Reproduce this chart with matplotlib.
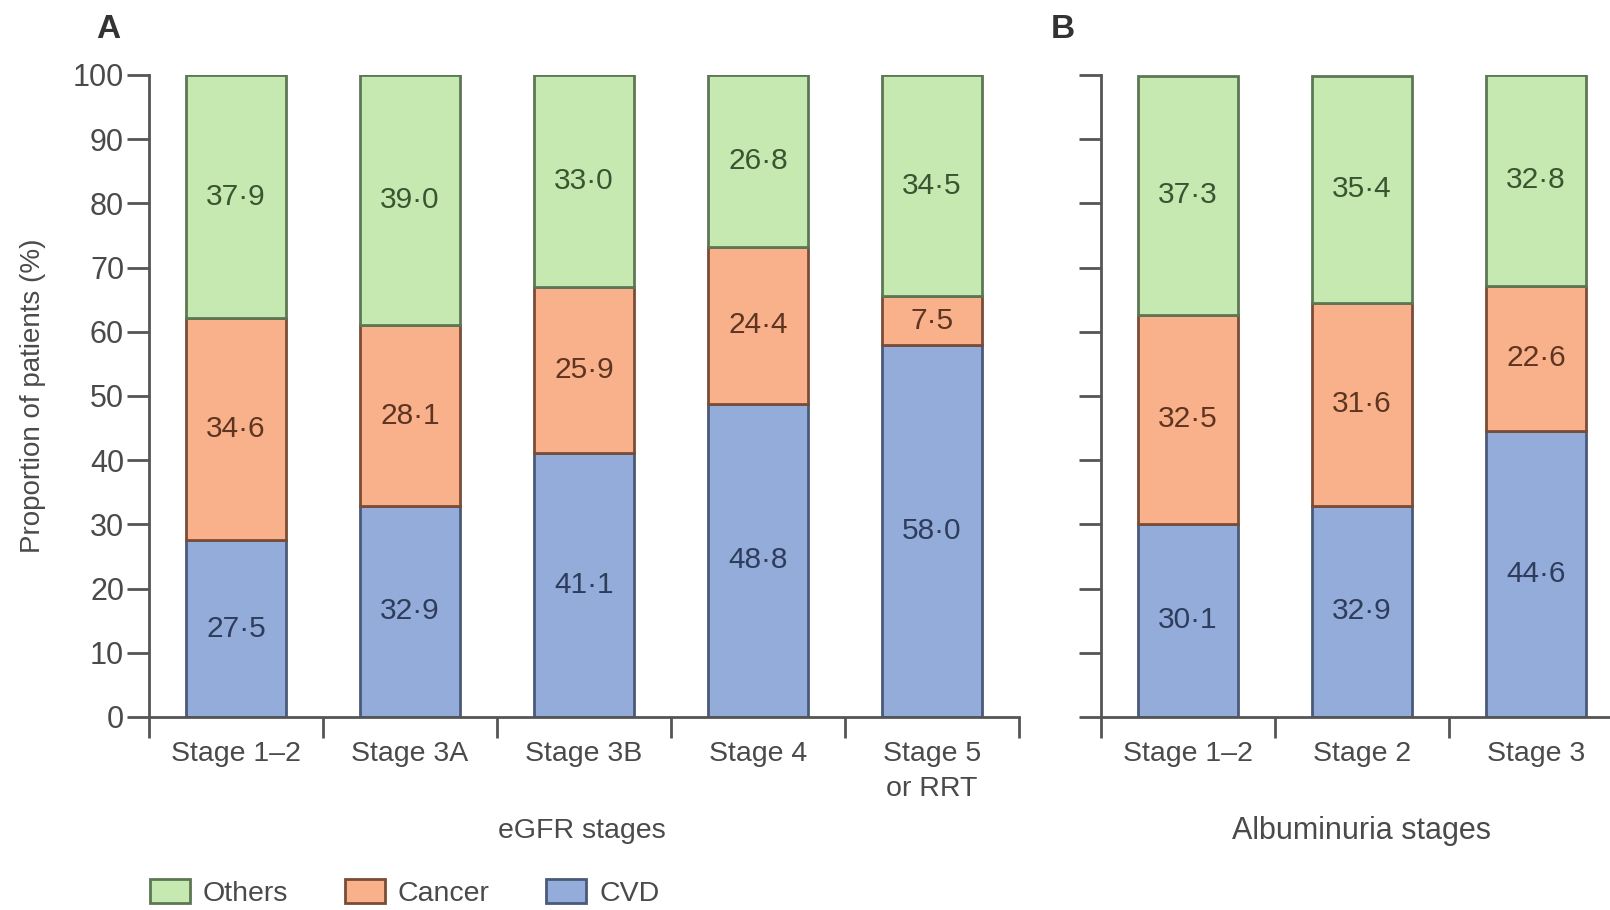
import numpy as np
import matplotlib.pyplot as plt
from matplotlib.patches import Patch

plt.rcParams['font.family'] = ['Liberation Sans', 'DejaVu Sans']

# eGFR stages (panel A)
egfr_stages = ['Stage 1–2', 'Stage 3A', 'Stage 3B', 'Stage 4', 'Stage 5\nor RRT']
egfr_cvd = [27.5, 32.9, 41.1, 48.8, 58.0]
egfr_cancer = [34.6, 28.1, 25.9, 24.4, 7.5]
egfr_others = [37.9, 39.0, 33.0, 26.8, 34.5]

# albuminuria stages (panel B)
alb_stages = ['Stage 1–2', 'Stage 2', 'Stage 3']
alb_cvd = [30.1, 32.9, 44.6]
alb_cancer = [32.5, 31.6, 22.6]
alb_others = [37.3, 35.4, 32.8]

# name, fill, edge, label colour
styles = {
    'CVD': ('#93acd9', '#4b5a78', '#2f3d5c'),
    'Cancer': ('#f9b18c', '#7a4c36', '#5e3520'),
    'Others': ('#c6e9b1', '#5d7755', '#3a5531'),
}
axis_col = '#555555'
text_col = '#4a4a4a'

W, H = 1610, 910
fig = plt.figure(figsize=(W / 100, H / 100), dpi=100)


def fmt(v):
    return f'{v:.1f}'.replace('.', '·')


def draw_panel(ax, stages, cvd, cancer, others, show_ylabels):
    x = np.arange(len(stages))
    bottom = np.zeros(len(stages))
    for name, vals in (('CVD', cvd), ('Cancer', cancer), ('Others', others)):
        fill, edge, tc = styles[name]
        vals = np.array(vals)
        bars = ax.bar(x, vals, 0.57, bottom=bottom, color=fill,
                      edgecolor=edge, linewidth=2)
        ax.bar_label(bars, labels=[fmt(v) for v in vals], label_type='center',
                     color=tc, fontsize=21.5)
        bottom += vals

    ax.set_xlim(-0.5, len(stages) - 0.5)
    ax.set_ylim(0, 100)
    ax.set_yticks(np.arange(0, 101, 10))
    if not show_ylabels:
        ax.set_yticklabels([])
    ax.set_xticks(x)
    ax.set_xticklabels(stages, fontsize=20.5, color=text_col, linespacing=1.45)
    ax.set_xticks(np.arange(len(stages) + 1) - 0.5, minor=True)
    ax.tick_params(axis='x', which='major', length=0, pad=17)
    ax.tick_params(axis='x', which='minor', length=15, width=2,
                   color=axis_col, direction='out')
    ax.tick_params(axis='y', length=16, width=2, color=axis_col, pad=2,
                   labelsize=22, labelcolor=text_col)
    for side in ('top', 'right'):
        ax.spines[side].set_visible(False)
    for side in ('left', 'bottom'):
        ax.spines[side].set_color(axis_col)
        ax.spines[side].set_linewidth(2)


axA = fig.add_axes([149 / W, 1 - 717 / H, (1019 - 149) / W, (717 - 75) / H])
axB = fig.add_axes([1101 / W, 1 - 717 / H, 522 / W, (717 - 75) / H])
draw_panel(axA, egfr_stages, egfr_cvd, egfr_cancer, egfr_others, True)
draw_panel(axB, alb_stages, alb_cvd, alb_cancer, alb_others, False)

fig.text(33 / W, 1 - 396 / H, 'Proportion of patients (%)', rotation=90,
         ha='center', va='center', fontsize=20, color=text_col)
fig.text(582 / W, 1 - 831 / H, 'eGFR stages', ha='center', va='center',
         fontsize=20.5, color=text_col)
fig.text(1361 / W, 1 - 831 / H, 'Albuminuria stages', ha='center', va='center',
         fontsize=22, color=text_col)
fig.text(108 / W, 1 - 29 / H, 'A', ha='center', va='center', fontsize=24,
         fontweight='bold', color='#333333')
fig.text(1063 / W, 1 - 29 / H, 'B', ha='center', va='center', fontsize=24,
         fontweight='bold', color='#333333')

handles = [Patch(facecolor=styles[n][0], edgecolor=styles[n][1], linewidth=2,
                 label=n) for n in ('Others', 'Cancer', 'CVD')]
leg = fig.legend(handles=handles, loc='center left', ncol=3, frameon=False,
                 bbox_to_anchor=(150 / W, 1 - 893 / H), borderaxespad=0,
                 borderpad=0, fontsize=20.5, handlelength=1.4, handleheight=0.9,
                 handletextpad=0.45, columnspacing=2.0)
for t in leg.get_texts():
    t.set_color(text_col)

fig.savefig('out.png', dpi=100)
